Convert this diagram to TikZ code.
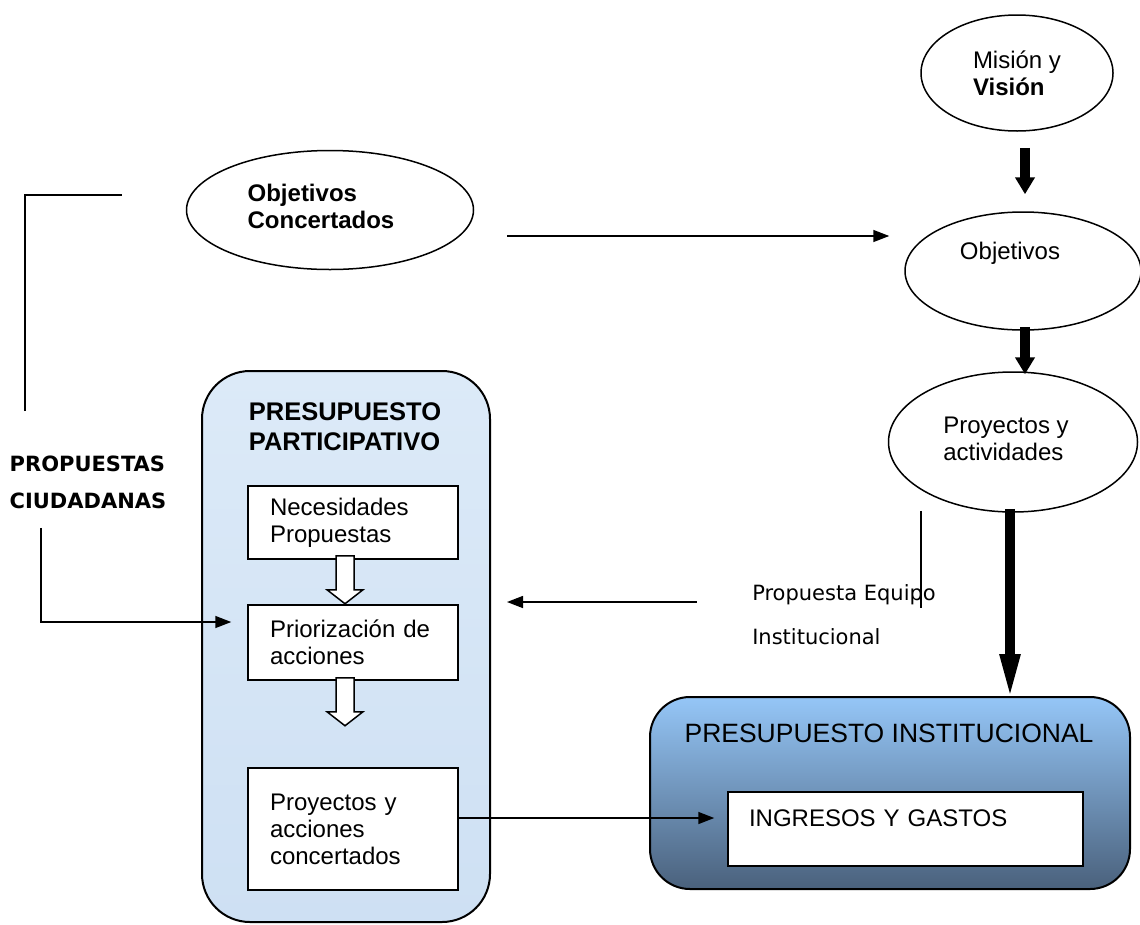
\documentclass[tikz,border=0pt]{standalone}
\usepackage{fontspec}
\setmainfont{Liberation Sans}
\newfontfamily\dejavu{DejaVu Sans}
\usetikzlibrary{arrows.meta,calc,positioning,shapes.geometric}

\definecolor{ppblue}{RGB}{220,234,248}
\definecolor{ppblue2}{RGB}{206,224,243}
\definecolor{pitop}{RGB}{149,198,247}
\definecolor{pibot}{RGB}{74,97,124}

\begin{document}
\begin{tikzpicture}[x=1pt,y=-1pt,
        txt/.style={font=\fontsize{24}{27}\selectfont},
        oval/.style={draw,ellipse,line width=1.5pt,inner sep=0pt,align=left,txt},
        box/.style={draw,rectangle,line width=1.5pt,fill=white,text width=166pt,inner xsep=22pt,inner ysep=0pt,align=left,txt},
        thin/.style={line width=1.5pt,-{Triangle[length=16pt,width=12pt]}},
        fat/.style={line width=10pt,-{Triangle[length=17pt,width=19pt]}},
        hollow/.style={draw,line width=1.5pt,fill=white}]
                \useasboundingbox (0,0) rectangle (1140,924);
                % right column: mision, objetivos, proyectos
                \node[oval,minimum width=192pt,minimum height=116pt] (mis) at (1017,73) {Misión y\\\textbf{Visión}};
                \node[oval,minimum width=236pt,minimum height=118pt,label={[txt,xshift=-13pt,yshift=18pt]center:Objetivos}] (obj) at (1023,271) {};
                \node[oval,minimum width=249pt,minimum height=140pt,label={[txt,align=left,xshift=-7pt,yshift=3pt]center:Proyectos y\\actividades}] (pro) at (1013,442) {};
                \node[oval,minimum width=287pt,minimum height=119pt,label={[font=\fontsize{24}{27}\selectfont\bfseries,align=left,xshift=-9pt,yshift=4pt]center:Objetivos\\Concertados}] (oc) at (330,210) {};
                % presupuesto participativo
                \node[draw,line width=2pt,rounded corners=48pt,top color=ppblue,bottom color=ppblue2,minimum width=288pt,minimum height=551pt] (pp) at (346,646.5) {};
                \node[font=\fontsize{25.5}{30}\selectfont\bfseries,align=left] (pptit) at (345,427) {PRESUPUESTO\\PARTICIPATIVO};
                \node[box,minimum height=73pt] (nec) at (353,522.5) {Necesidades\\Propuestas};
                \node[box,minimum height=75pt] (prio) at (353,642.5) {Priorización de\\acciones};
                \node[box,minimum height=122pt] (proy) at (353,829) {Proyectos y\\acciones\\concertados};
                % presupuesto institucional
                \node[draw,line width=2pt,rounded corners=40pt,top color=pitop,bottom color=pibot,minimum width=480pt,minimum height=192pt] (pi) at (890,793) {};
                \node[font=\fontsize{26.5}{30}\selectfont] (pitit) at (889,733) {PRESUPUESTO INSTITUCIONAL};
                \node[box,text width=313pt,inner xsep=21pt,minimum height=74pt,text depth=22pt] (ing) at (905.5,829) {INGRESOS Y GASTOS};
                % free labels
                \node[font=\fontsize{21}{37}\dejavu\bfseries,align=left] (prop) at (88,482) {PROPUESTAS\\CIUDADANAS};
                \node[font=\fontsize{21}{44}\dejavu,align=left] (peq) at (844,615) {Propuesta Equipo\\Institucional};
                % thick arrows
                \draw[fat] ([shift={(8,16)}]mis.south) -- ([shift={(2,-17)}]obj.north);
                \draw[fat] ([shift={(2,-4)}]obj.south) -- ([shift={(12,3)}]pro.north);
                \draw[fat,-{Triangle[length=48pt,width=18pt]}] ([shift={(-3,-4)}]pro.south) -- ([shift={(120,6)}]pi.north);
                % thin arrows
                \draw[thin] ([shift={(33,26)}]oc.east) -- ([shift={(-15,-35)}]obj.west);
                \draw[thin] ([shift={(-52,-13)}]peq.west) -- ([shift={(16,-44.5)}]pp.east);
                \draw[thin] ([shift={(-47,16)}]prop.south) |- ([shift={(-16,-20.5)}]prio.west);
                \draw[thin] ([yshift=11pt]proy.east) -- ([shift={(-13,-11)}]ing.west);
                % open lines
                \draw[line width=1.5pt] ([shift={(-63,-41)}]prop.north) |- ([shift={(-64,-15)}]oc.west);
                \draw[line width=1.5pt] ([shift={(-92,-2)}]pro.south) -- ++(0,97);
                % hollow arrows inside the participativo box
                \coordinate (h1) at ([shift={(-17,-4)}]nec.south);
                \coordinate (h2) at ([shift={(-17,-3)}]prio.south);
                \draw[hollow] (h1) -- ++(18,0) -- ++(0,34) -- ++(9,0) -- ++(-18,14) -- ++(-18,-14) -- ++(9,0) -- cycle;
                \draw[hollow] (h2) -- ++(18,0) -- ++(0,34) -- ++(9,0) -- ++(-18,14) -- ++(-18,-14) -- ++(9,0) -- cycle;
\end{tikzpicture}
\end{document}
